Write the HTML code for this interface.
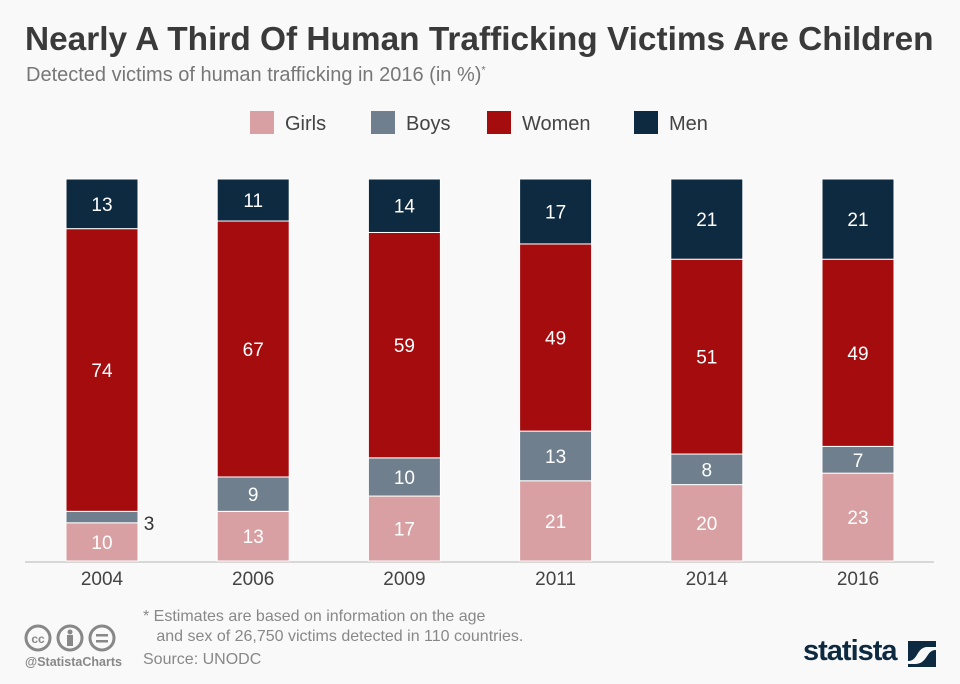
<!DOCTYPE html>
<html><head><meta charset="utf-8"><style>
body{margin:0;background:#f9f9f9;}
#wrap{position:relative;width:960px;height:684px;background:#f9f9f9;font-family:"Liberation Sans","DejaVu Sans",sans-serif;overflow:hidden}
.t{position:absolute;white-space:nowrap}
</style></head><body>
<div id="wrap">
<div class="t" style="left:25px;top:21px;font-size:33.4px;font-weight:bold;color:#3a3a3a;letter-spacing:0px">Nearly A Third Of Human Trafficking Victims Are Children</div>
<div class="t" style="left:26px;top:64px;font-size:20px;color:#777">Detected victims of human trafficking in 2016 (in %)<sup style="font-size:11px">*</sup></div>
<svg id="svg" width="960" height="684" style="position:absolute;left:0;top:0"></svg>
<div class="t" style="left:143px;top:607px;font-size:16px;color:#888;line-height:20px">* Estimates are based on information on the age<br>&nbsp;&nbsp;&nbsp;and sex of 26,750 victims detected in 110 countries.</div>
<div class="t" style="left:143px;top:651px;font-size:16px;color:#888">Source: UNODC</div>
<div class="t" style="left:25px;top:655px;font-size:12.5px;font-weight:bold;color:#888">@StatistaCharts</div>
<svg width="110" height="32" style="position:absolute;left:24px;top:622px">
<g fill="none" stroke="#888" stroke-width="3"><circle cx="14" cy="16" r="12"/><circle cx="46" cy="16" r="12"/><circle cx="78" cy="16" r="12"/></g>
<text x="14" y="21" text-anchor="middle" font-size="12" font-weight="bold" fill="#888" font-family="Liberation Sans">cc</text>
<circle cx="46" cy="10" r="2.5" fill="#888"/><rect x="43" y="13" width="6" height="11" fill="#888"/>
<rect x="72" y="12" width="12" height="2.5" fill="#888"/><rect x="72" y="18" width="12" height="2.5" fill="#888"/>
</svg>
<div class="t" style="left:803px;top:635px;font-size:29px;font-weight:bold;color:#0e2a40;letter-spacing:-1px">statista</div>
<svg width="28" height="26" style="position:absolute;left:908px;top:641px"><rect width="28" height="26" fill="#0e2a40"/><path d="M0 20 C10 20 8 8 18 6 L28 6 L28 9 C18 9 20 22 8 23 L0 23Z" fill="#f9f9f9"/></svg>
</div>
<script>
const years=["2004","2006","2009","2011","2014","2016"];
const girls=[10,13,17,21,20,23];
const boys=[3,9,10,13,8,7];
const women=[74,67,59,49,51,49];
const men=[13,11,14,17,21,21];
const seriesNames=["Girls","Boys","Women","Men"];
const colors=["#d9a0a3","#6f7f8e","#a50c0e","#0e2a40"];
const series=[girls,boys,women,men];
const svg=document.getElementById('svg');
const NS="http://www.w3.org/2000/svg";
const y0=561,h=382;
const yScale=v=>v/100*h;
const xScale=i=>66+i*151.2;
const bw=72;
function mk(t,a){const e=document.createElementNS(NS,t);for(const k in a)e.setAttribute(k,a[k]);svg.appendChild(e);return e;}
const lx=[250,371,487,634];
seriesNames.forEach((n,i)=>{
 const r=mk('rect',{x:lx[i],y:111,width:24,height:23,fill:colors[i]});
 
 
 const t=mk('text',{x:lx[i]+35,y:130,'font-size':20,fill:'#444','font-family':'Liberation Sans'});
 t.textContent=n;
 
 
});
const base=mk('line',{x1:25,x2:934,y1:y0+1,y2:y0+1,stroke:'#ccc','stroke-width':1.5});


years.forEach((yr,i)=>{
 let acc=0;const x=xScale(i);
 series.forEach((s,j)=>{
  const v=s[i];const top=y0-yScale(acc+v);const hh=yScale(v);
  const r=mk('rect',{x:x,y:top,width:bw,height:hh,fill:colors[j],stroke:'#fff','stroke-width':1});
  
  
  const lab=mk('text',{'font-size':19,'font-family':'Liberation Sans','text-anchor':'middle',fill:'#fff'});
  if(hh<20){lab.setAttribute('x',x+bw+11);lab.setAttribute('y',top+hh/2+13);lab.setAttribute('fill','#333');}
  else{lab.setAttribute('x',x+bw/2);lab.setAttribute('y',top+hh/2+7);}
  lab.textContent=v;
  
  
  acc+=v;
 });
 const t=mk('text',{x:x+bw/2,y:585,'font-size':19,'text-anchor':'middle',fill:'#444','font-family':'Liberation Sans'});
 t.textContent=yr;
 
 
});
</script>
</body></html>
